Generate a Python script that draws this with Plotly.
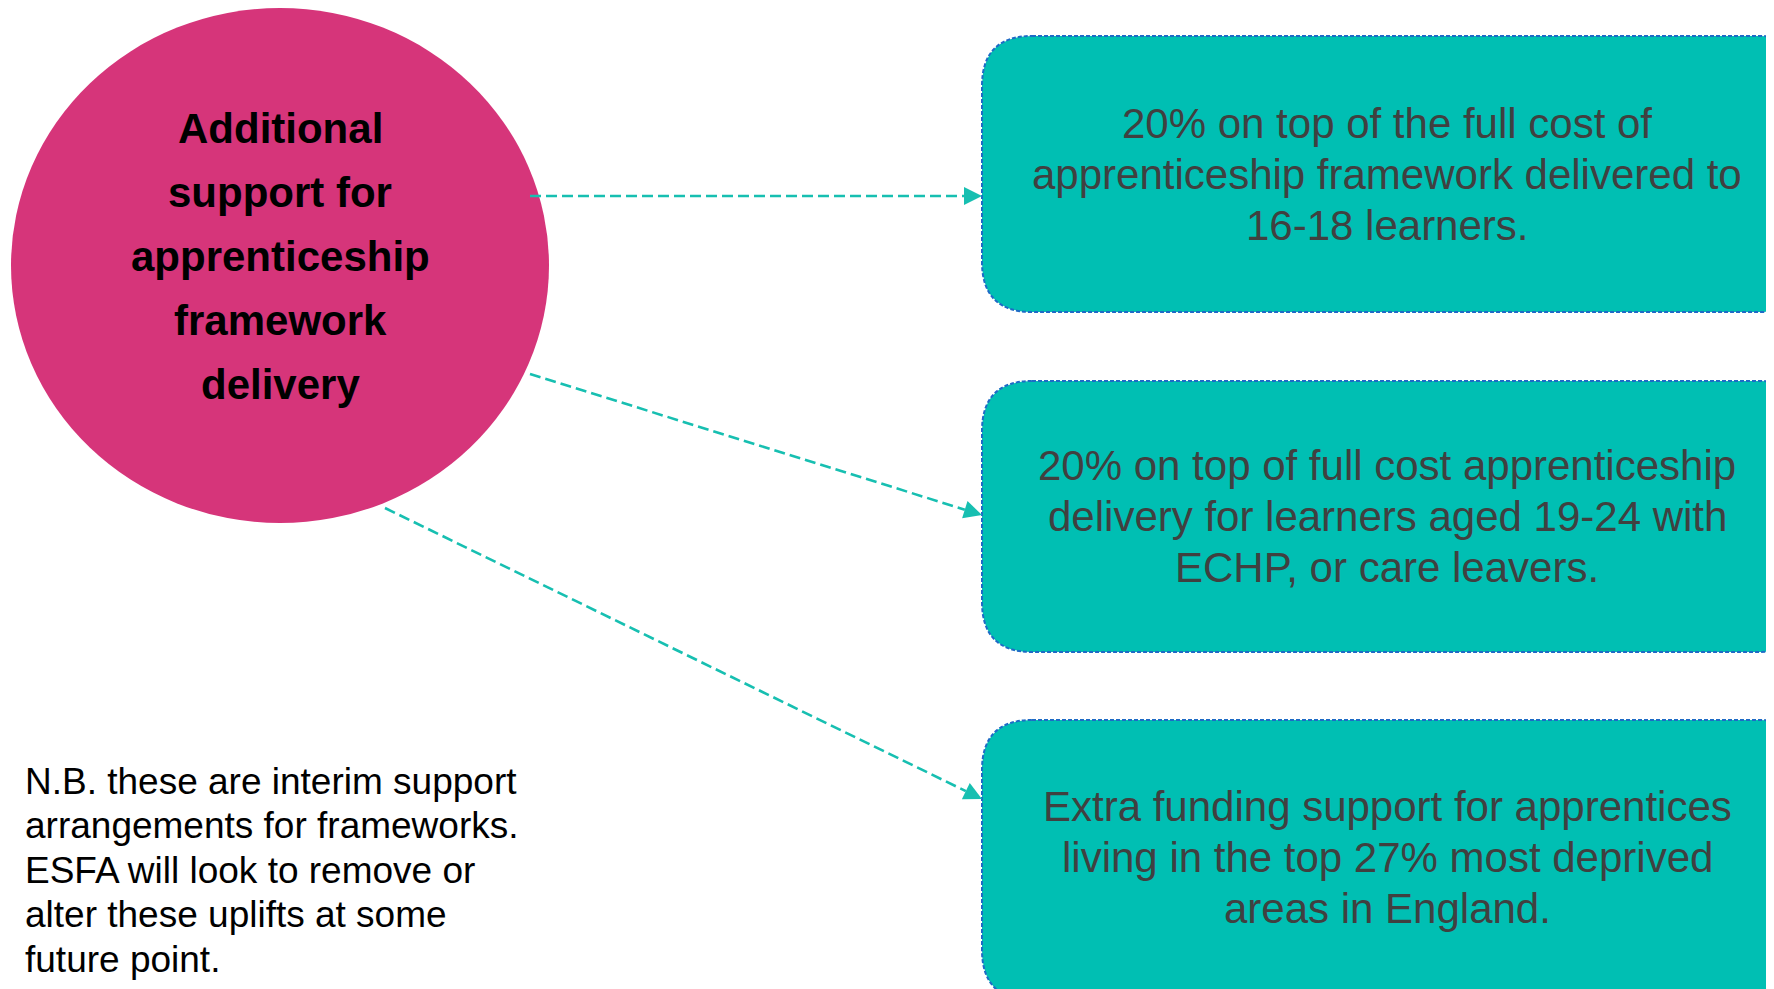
import math
import plotly.graph_objects as go

# ---- content ----
hub_lines = ["Additional", "support for", "apprenticeship", "framework", "delivery"]
box_lines = [
    ["20% on top of the full cost of", "apprenticeship framework delivered to", "16-18 learners."],
    ["20% on top of full cost apprenticeship", "delivery for learners aged 19-24 with", "ECHP, or care leavers."],
    ["Extra funding support for apprentices", "living in the top 27% most deprived", "areas in England."],
]
note_lines = ["N.B. these are interim support", "arrangements for frameworks.",
              "ESFA will look to remove or", "alter these uplifts at some", "future point."]

# ---- layout geometry (pixels) ----
W, H = 1774, 989
OFF = 8  # page body margin compensation
hub = dict(x0=11, y0=8, x1=549, y1=523)
hub_text_y0, hub_text_dy = 128, 64
boxes = [(982, 36, 1810, 312), (982, 381, 1810, 652), (982, 720, 1810, 1000)]
box_text_cx = 1387
box_text_dy = 51
note_x, note_y0, note_dy = 23, 781, 44.5
arrows = [((530, 196), (982, 196)), ((530, 374), (982, 515)), ((385, 508), (982, 799))]

PINK = "#D6357A"
TEAL = "#00BFB3"
ARROW = "#17BFB1"
BORDER = "#1E6BC6"
GREY = "#404040"
FONT = "Liberation Sans, Arial, sans-serif"

fig = go.Figure()
shapes, annos = [], []

shapes.append(dict(type="circle", xref="x", yref="y", fillcolor=PINK,
                   line=dict(width=0), layer="below", **hub))

def rounded(x0, y0, x1, y1, r):
    return (f"M{x0+r},{y0} L{x1-r},{y0} Q{x1},{y0} {x1},{y0+r} L{x1},{y1-r} "
            f"Q{x1},{y1} {x1-r},{y1} L{x0+r},{y1} Q{x0},{y1} {x0},{y1-r} "
            f"L{x0},{y0+r} Q{x0},{y0} {x0+r},{y0} Z")

for (x0, y0, x1, y1), lines in zip(boxes, box_lines):
    shapes.append(dict(type="path", path=rounded(x0, y0, x1, y1, 50), xref="x", yref="y",
                       fillcolor=TEAL, line=dict(color=BORDER, width=2, dash="4px,2px"),
                       layer="below"))
    cy = (y0 + min(y1, 995)) / 2
    n = len(lines)
    for i, t in enumerate(lines):
        annos.append(dict(x=box_text_cx, y=cy + (i - (n - 1) / 2) * box_text_dy, xref="x", yref="y",
                          text=t, showarrow=False, xanchor="center", yanchor="middle",
                          font=dict(family=FONT, size=42, color=GREY)))

for i, t in enumerate(hub_lines):
    annos.append(dict(x=(hub["x0"] + hub["x1"]) / 2, y=hub_text_y0 + i * hub_text_dy, xref="x", yref="y",
                      text=f"<b>{t}</b>", showarrow=False, xanchor="center", yanchor="middle",
                      font=dict(family=FONT, size=42, color="#000000")))

for i, t in enumerate(note_lines):
    annos.append(dict(x=note_x, y=note_y0 + i * note_dy, xref="x", yref="y",
                      text=t, showarrow=False, xanchor="left", yanchor="middle",
                      font=dict(family=FONT, size=37, color="#000000")))

for (sx, sy), (ex, ey) in arrows:
    L = math.hypot(ex - sx, ey - sy)
    ux, uy = (ex - sx) / L, (ey - sy) / L
    hl, hw = 18, 9
    bx, by = ex - ux * hl, ey - uy * hl
    shapes.append(dict(type="line", x0=sx, y0=sy, x1=bx, y1=by, xref="x", yref="y",
                       line=dict(color=ARROW, width=2.6, dash="11px,5px")))
    px, py = -uy, ux
    shapes.append(dict(type="path", xref="x", yref="y", fillcolor=ARROW, line=dict(width=0),
                       path=f"M{ex},{ey} L{bx+px*hw},{by+py*hw} L{bx-px*hw},{by-py*hw} Z"))

fig.update_layout(
    width=W, height=H, margin=dict(l=0, r=0, t=0, b=0),
    paper_bgcolor="white", plot_bgcolor="white",
    xaxis=dict(range=[OFF, W + OFF], visible=False, fixedrange=True),
    yaxis=dict(range=[H + OFF, OFF], visible=False, fixedrange=True),
    shapes=shapes, annotations=annos, showlegend=False,
)
fig.write_html("out.html", config={"displayModeBar": False})
